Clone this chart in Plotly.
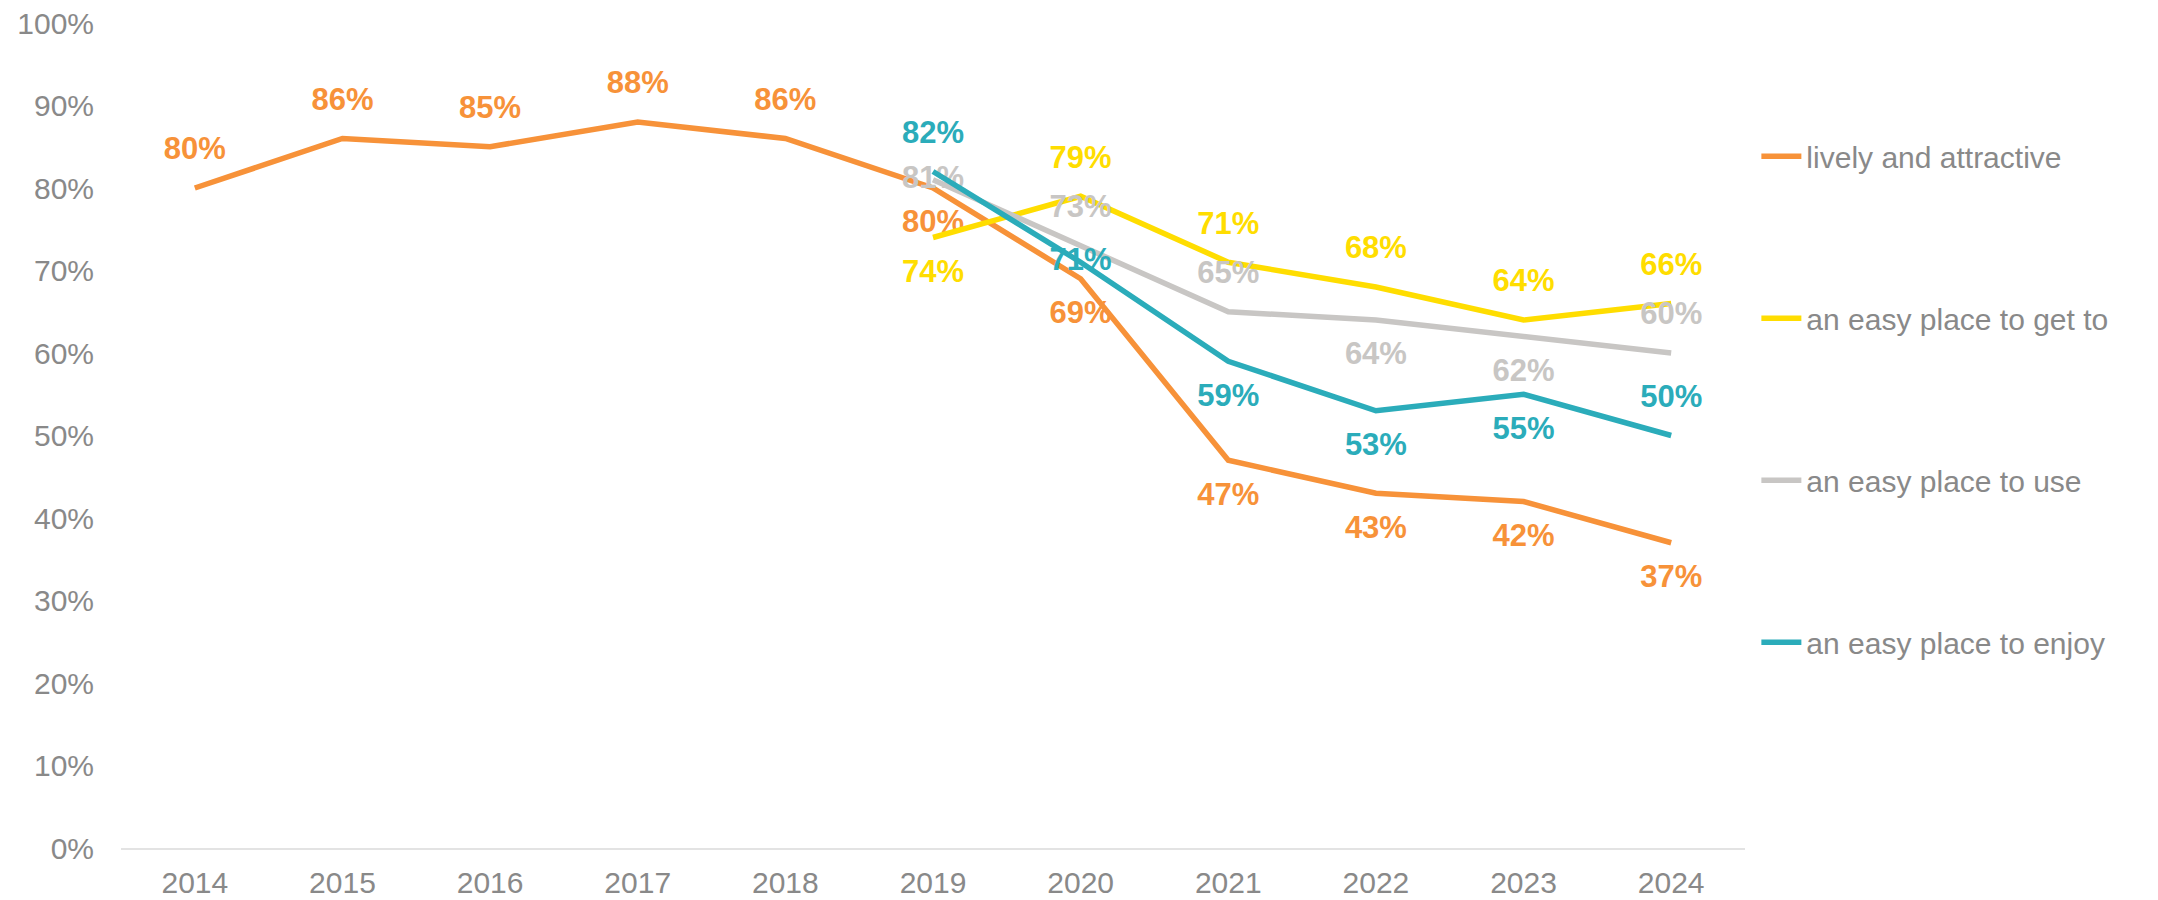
import plotly.graph_objects as go

# Data
years = ["2014", "2015", "2016", "2017", "2018", "2019", "2020", "2021", "2022", "2023", "2024"]
years_new = years[5:]

lively = [80, 86, 85, 88, 86, 80, 69, 47, 43, 42, 37]
get_to = [74, 79, 71, 68, 64, 66]
use = [81, 73, 65, 64, 62, 60]
enjoy = [82, 71, 59, 53, 55, 50]

lively_pos = ["top center"] * 5 + ["bottom center"] * 6
get_to_pos = ["bottom center"] + ["top center"] * 5
use_pos = ["middle center", "top center", "top center", "bottom center", "bottom center", "top center"]
enjoy_pos = ["top center", "middle center", "bottom center", "bottom center", "bottom center", "top center"]

series = [
    ("lively and attractive", years, lively, lively_pos, "#F79239"),
    ("an easy place to get to", years_new, get_to, get_to_pos, "#FFDD00"),
    ("an easy place to use", years_new, use, use_pos, "#C8C6C4"),
    ("an easy place to enjoy", years_new, enjoy, enjoy_pos, "#2BACBA"),
]

font_family = "Liberation Sans, Arial, sans-serif"
grey_text = "#898989"

fig = go.Figure()
for i, (name, x, y, pos, colour) in enumerate(series):
    fig.add_trace(go.Scatter(
        x=x, y=y, name=name,
        mode="lines+markers+text",
        line=dict(color=colour, width=5.5),
        # invisible markers only push the value labels away from the line
        marker=dict(size=32, color="rgba(0,0,0,0)"),
        text=[f"{v}%" for v in y],
        textposition=pos,
        textfont=dict(color=colour, size=31, family=font_family, weight="bold"),
        legendgroup=f"g{i}",
        cliponaxis=False,
    ))

# page body has an 8px margin, so the figure is 8px smaller than the window
fig.update_layout(
    width=2150, height=892,
    margin=dict(l=113, r=413, t=15, b=52, autoexpand=False),
    paper_bgcolor="white", plot_bgcolor="white",
    font=dict(family=font_family, color=grey_text, size=30),
    showlegend=True,
    legend=dict(
        x=1.007, xanchor="left", y=0.87, yanchor="top",
        tracegroupgap=120, maxheight=1,
        font=dict(size=30, color=grey_text),
        itemwidth=40,
    ),
)

fig.update_xaxes(
    type="category", automargin=False, range=[-0.5, len(years) - 0.5],
    showgrid=False, showline=True, linecolor="#E3E3E3", linewidth=2,
    ticks="", ticklabelstandoff=7,
    tickfont=dict(size=30, color=grey_text),
)
fig.update_yaxes(
    range=[0, 100], dtick=10, ticksuffix="%", automargin=False,
    showgrid=False, zeroline=False, showline=False,
    ticks="", ticklabelstandoff=26, ticklabeloverflow="allow",
    tickfont=dict(size=30, color=grey_text),
)

fig.write_html("out.html")
